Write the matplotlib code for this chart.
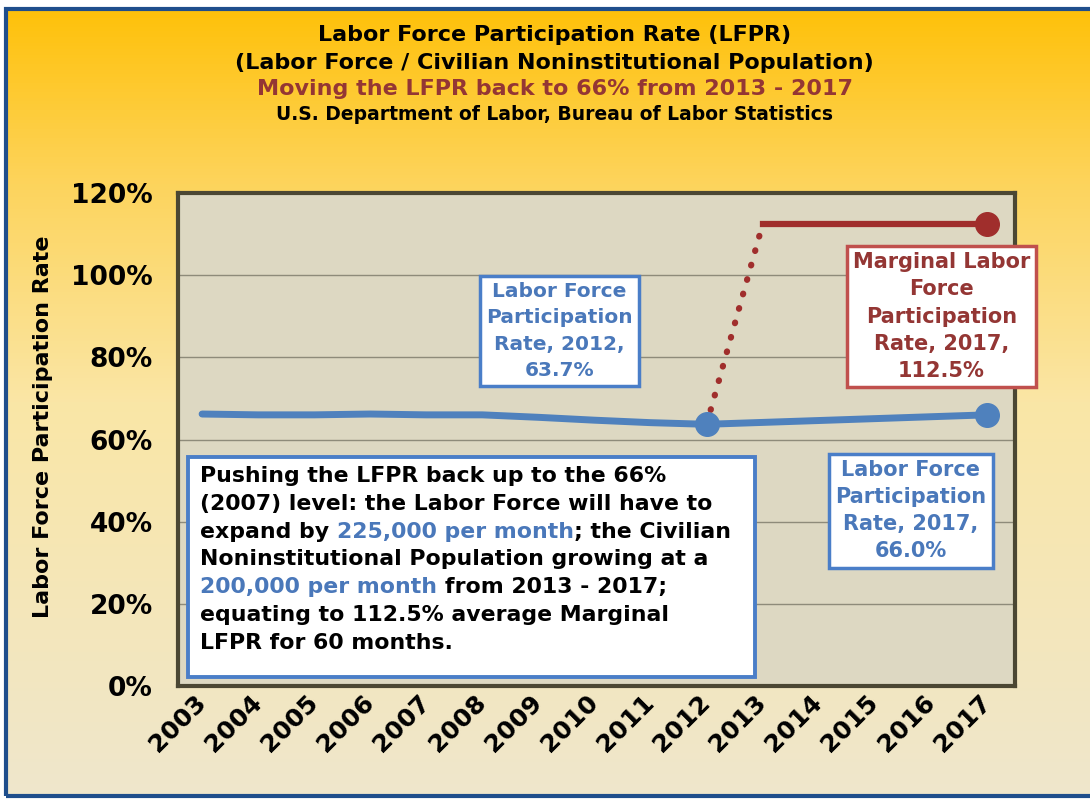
import numpy as np
import matplotlib
matplotlib.use("Agg")
import matplotlib.pyplot as plt
from matplotlib.patches import Rectangle
from matplotlib.colors import to_rgb

# data
years = list(range(2003, 2018))
lfpr_years = [2003, 2004, 2005, 2006, 2007, 2008, 2009, 2010, 2011, 2012, 2017]
lfpr = [66.2, 66.0, 66.0, 66.2, 66.0, 66.0, 65.4, 64.7, 64.1, 63.7, 66.0]
lfpr_mark_years = [2012, 2017]
lfpr_mark = [63.7, 66.0]
bridge_years = [2012, 2013]
bridge = [63.7, 112.5]
marginal_years = [2013, 2017]
marginal = [112.5, 112.5]
y_ticks = [0, 20, 40, 60, 80, 100, 120]
y_labels = ["0%", "20%", "40%", "60%", "80%", "100%", "120%"]

title_lines = ["Labor Force Participation Rate (LFPR)",
               "(Labor Force / Civilian Noninstitutional Population)"]
subtitle = "Moving the LFPR back to 66% from 2013 - 2017"
source = "U.S. Department of Labor, Bureau of Labor Statistics"

BLUE = "#4F81BD"
BLUE_TXT = "#4A78BA"
RED = "#A02E2C"
RED_TXT = "#943634"

W, H = 1090, 799
fig = plt.figure(figsize=(W / 100, H / 100), dpi=100, facecolor="white")

# gradient background (gold to cream)
bg = fig.add_axes([6 / W, 3 / H, 1 - 6 / W, 1 - 12 / H], zorder=-5)
stops = [(0.0, "#FFC10A"), (0.22, "#FDD45C"), (0.5, "#FAE6A6"), (1.0, "#EFE7CC")]
t = np.linspace(0, 1, 256)
grad = np.zeros((256, 1, 3))
for c in range(3):
    grad[:, 0, c] = np.interp(t, [s[0] for s in stops], [to_rgb(s[1])[c] for s in stops])
bg.imshow(grad, aspect="auto", extent=[0, 1, 0, 1])
bg.set_axis_off()
fig.patches.append(Rectangle((6 / W, 3 / H), 1.2, 1 - 12 / H, transform=fig.transFigure,
                             fill=False, edgecolor="#1F4E8C", linewidth=3, zorder=10))

# titles
fig.text(0.509, 0.956, title_lines[0], ha="center", va="center", fontsize=16, fontweight="bold")
fig.text(0.509, 0.921, title_lines[1], ha="center", va="center", fontsize=16, fontweight="bold")
fig.text(0.509, 0.888, subtitle, ha="center", va="center", fontsize=16, fontweight="bold", color=RED_TXT)
fig.text(0.509, 0.857, source, ha="center", va="center", fontsize=13.5, fontweight="bold")

ax = fig.add_axes([178 / W, 1 - 686 / H, (1015 - 178) / W, (686 - 193) / H])
ax.set_facecolor("#DDD8C2")
ax.set_xlim(2002.57, 2017.5)
ax.set_ylim(0, 120)
for s in ax.spines.values():
    s.set_color("#4B4733")
    s.set_linewidth(3)
ax.grid(axis="y", color="#8E8B7A", linewidth=1)
ax.set_axisbelow(True)

ax.plot(lfpr_years, lfpr, color=BLUE, linewidth=5, solid_capstyle="round", zorder=3)
ax.plot(lfpr_mark_years, lfpr_mark, "o", color=BLUE, markersize=17, zorder=4)
ax.plot(bridge_years, bridge, color=RED, linewidth=4.5, linestyle=(0, (0.1, 2.3)),
        dash_capstyle="round", zorder=3)
ax.plot(marginal_years, marginal, color=RED, linewidth=4.5, zorder=3)
ax.plot(marginal_years[-1:], marginal[-1:], "o", color=RED, markersize=17, zorder=4)

ax.set_yticks(y_ticks)
ax.set_yticklabels(y_labels, fontsize=19, fontweight="bold")
ax.set_xticks(years)
ax.set_xticklabels([str(y) for y in years], fontsize=18, fontweight="bold",
                   rotation=45, ha="right", va="center", rotation_mode="anchor")
ax.tick_params(axis="both", length=0)
ax.tick_params(axis="y", pad=18)
ax.tick_params(axis="x", pad=9)
ax.set_ylabel("Labor Force Participation Rate", fontsize=16, fontweight="bold")
ax.yaxis.set_label_coords(-0.149, 0.525)

# annotation boxes
ax.text(2009.37, 86.4, "Labor Force\nParticipation\nRate, 2012,\n63.7%", ha="center", va="center",
        fontsize=14.5, fontweight="bold", color=BLUE_TXT, zorder=6, linespacing=1.5,
        bbox=dict(boxstyle="square,pad=0.3", facecolor="white", edgecolor="#4A7EC8", linewidth=2.5))
ax.text(2016.19, 89.9, "Marginal Labor\nForce\nParticipation\nRate, 2017,\n112.5%", ha="center",
        va="center", fontsize=15, fontweight="bold", color=RED_TXT, zorder=6, clip_on=False,
        linespacing=1.45,
        bbox=dict(boxstyle="square,pad=0.3", facecolor="white", edgecolor="#C0504D", linewidth=2.5))
ax.text(2015.64, 42.7, "Labor Force\nParticipation\nRate, 2017,\n66.0%", ha="center", va="center",
        fontsize=15, fontweight="bold", color=BLUE_TXT, zorder=6, linespacing=1.45,
        bbox=dict(boxstyle="square,pad=0.3", facecolor="white", edgecolor="#4A7EC8", linewidth=2.5))

# big explanation box with mixed colour text
ax.add_patch(Rectangle((2002.75, 2.2), 2012.86 - 2002.75, 55.7 - 2.2, facecolor="white",
                       edgecolor="#4A7EC8", linewidth=2.8, zorder=6))
box_lines = [
    [("Pushing the LFPR back up to the 66%", "black")],
    [("(2007) level: the Labor Force will have to", "black")],
    [("expand by ", "black"), ("225,000 per month", BLUE_TXT), ("; the Civilian", "black")],
    [("Noninstitutional Population growing at a", "black")],
    [("200,000 per month", BLUE_TXT), (" from 2013 - 2017;", "black")],
    [("equating to 112.5% average Marginal", "black")],
    [("LFPR for 60 months.", "black")],
]
renderer = fig.canvas.get_renderer()
box_font = dict(fontsize=15.8, fontweight="bold")


def text_width(s):
    tmp = fig.text(0, 0, s, **box_font)
    w = tmp.get_window_extent(renderer).width
    tmp.remove()
    return w


x0_px = 200
for i, parts in enumerate(box_lines):
    y_px = 482 + i * 27.8
    prefix = ""
    for piece, col in parts:
        off = 0 if not prefix else text_width(prefix + "x") - text_width("x")
        lead = len(piece) - len(piece.lstrip(" "))
        if lead:
            off += text_width(" " * lead + "x") - text_width("x")
        fig.text((x0_px + off) / W, 1 - y_px / H, piece.lstrip(" "), color=col,
                 va="baseline", ha="left", zorder=20, **box_font)
        prefix += piece

fig.savefig("out.png", dpi=100)
